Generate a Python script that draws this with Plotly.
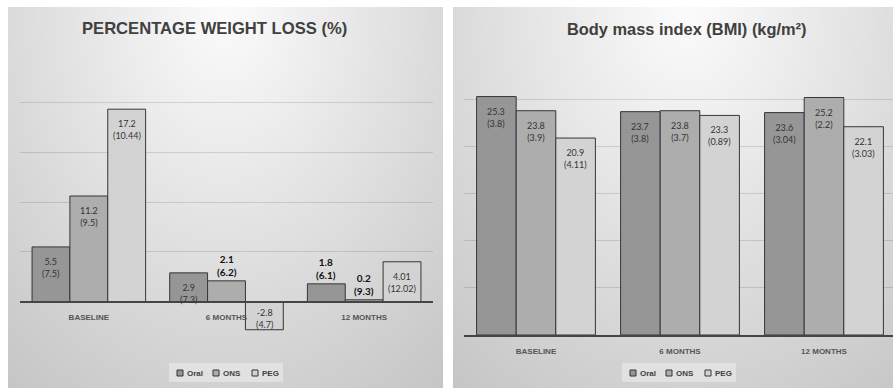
import base64
import struct
import zlib

import numpy as np
import plotly.graph_objects as go

# ---------------- data ----------------
categories = ["BASELINE", "6 MONTHS", "12 MONTHS"]
series_names = ["Oral", "ONS", "PEG"]

# Percentage weight loss (%): bar heights as drawn, printed labels "mean (SD)"
wl_oral = [5.5, 2.9, 1.8]
wl_ons = [10.6, 2.1, 0.2]
wl_peg = [19.3, -2.8, 4.01]
wl_oral_labels = ["5.5 (7.5)", "2.9 (7.3)", "1.8 (6.1)"]
wl_ons_labels = ["11.2 (9.5)", "2.1 (6.2)", "0.2 (9.3)"]
wl_peg_labels = ["17.2 (10.44)", "-2.8 (4.7)", "4.01 (12.02)"]
wl_oral_bold = [False, False, True]
wl_ons_bold = [False, True, True]
wl_peg_bold = [False, False, False]

# Body mass index (kg/m2)
bmi_oral = [25.3, 23.7, 23.6]
bmi_ons = [23.8, 23.8, 25.2]
bmi_peg = [20.9, 23.3, 22.1]
bmi_oral_labels = ["25.3 (3.8)", "23.7 (3.8)", "23.6 (3.04)"]
bmi_ons_labels = ["23.8 (3.9)", "23.8 (3.7)", "25.2 (2.2)"]
bmi_peg_labels = ["20.9 (4.11)", "23.3 (0.89)", "22.1 (3.03)"]
bmi_bold = [False, False, False]

wl_title = "PERCENTAGE WEIGHT LOSS (%)"
bmi_title = "Body mass index (BMI) (kg/m²)"

# ---------------- styling ----------------
W, H = 893, 389
colors = ["#969696", "#adadad", "#d3d3d3"]
edge = "#363636"
BW = 0.275  # bar width in category units


def fx(p):
    return p / W


def fy(p):
    return 1 - p / H


def gradient_png(w, h):
    u = (np.arange(w) + 0.5) / w
    v = (np.arange(h) + 0.5) / h
    U, V = np.meshgrid(u, v)
    r = np.sqrt(((U - 0.5) * 2) ** 2 * 0.6 + V ** 2)
    val = np.clip(252 - 43 * r, 190, 253).astype(np.uint8)
    raw = np.hstack([np.zeros((h, 1), np.uint8), val]).tobytes()

    def chunk(t, d):
        return struct.pack(">I", len(d)) + t + d + struct.pack(">I", zlib.crc32(t + d) & 0xFFFFFFFF)

    png = (b"\x89PNG\r\n\x1a\n"
           + chunk(b"IHDR", struct.pack(">IIBBBBB", w, h, 8, 0, 0, 0, 0))
           + chunk(b"IDAT", zlib.compress(raw, 9))
           + chunk(b"IEND", b""))
    return "data:image/png;base64," + base64.b64encode(png).decode()


fig = go.Figure()

panels = [
    dict(xa="x", ya="y", legend_left=169,
         vals=[wl_oral, wl_ons, wl_peg],
         labels=[wl_oral_labels, wl_ons_labels, wl_peg_labels],
         bold=[wl_oral_bold, wl_ons_bold, wl_peg_bold]),
    dict(xa="x2", ya="y2", legend_left=622,
         vals=[bmi_oral, bmi_ons, bmi_peg],
         labels=[bmi_oral_labels, bmi_ons_labels, bmi_peg_labels],
         bold=[bmi_bold, bmi_bold, bmi_bold]),
]

annotations = []
shapes = []
legend_offsets = [8, 44, 83]
for p in panels:
    for k, name in enumerate(series_names):
        xs = np.arange(len(categories)) + (k - 1) * BW
        fig.add_trace(go.Bar(
            x=xs, y=p["vals"][k], width=BW, name=name,
            marker=dict(color=colors[k], line=dict(color=edge, width=1)),
            xaxis=p["xa"], yaxis=p["ya"], showlegend=False, hoverinfo="skip",
        ))
        for i, (xv, yv) in enumerate(zip(xs, p["vals"][k])):
            lab = p["labels"][k][i].replace(" ", "<br>")
            if p["bold"][k][i]:
                annotations.append(dict(
                    x=xv, y=yv, xref=p["xa"], yref=p["ya"], text="<b>" + lab + "</b>",
                    showarrow=False, yanchor="bottom", yshift=1,
                    font=dict(family="Lato", size=10, color="#111111")))
            else:
                annotations.append(dict(
                    x=xv, y=max(yv, 0), xref=p["xa"], yref=p["ya"], text=lab,
                    showarrow=False, yanchor="top", yshift=-7 if yv > 0 else -3,
                    font=dict(family="Lato", size=9, color="#333333")))

    # legend (box, swatches, names)
    L = p["legend_left"]
    shapes.append(dict(type="rect", xref="paper", yref="paper", x0=fx(L), x1=fx(L + 114),
                       y0=fy(382), y1=fy(363), fillcolor="rgba(255,255,255,0.35)",
                       line=dict(width=0), layer="below"))
    for k, name in enumerate(series_names):
        sx = L + legend_offsets[k]
        shapes.append(dict(type="rect", xref="paper", yref="paper", x0=fx(sx), x1=fx(sx + 6),
                           y0=fy(376), y1=fy(370), fillcolor=colors[k],
                           line=dict(color=edge, width=1)))
        annotations.append(dict(x=fx(sx + 8), y=fy(373), xref="paper", yref="paper",
                                text=name, showarrow=False, xanchor="left", yanchor="middle",
                                font=dict(family="Liberation Sans", size=8, color="#404040",
                                          weight="bold")))

annotations += [
    dict(x=fx(214), y=fy(29), xref="paper", yref="paper", text="<b>" + wl_title + "</b>",
         showarrow=False, xanchor="center", yanchor="middle",
         font=dict(family="Liberation Sans", size=16.6, color="#404040")),
    dict(x=fx(687), y=fy(29), xref="paper", yref="paper", text="<b>" + bmi_title + "</b>",
         showarrow=False, xanchor="center", yanchor="middle",
         font=dict(family="Liberation Sans", size=16.4, color="#404040")),
]

# axes geometry
y1_dom = [fy(352), fy(52)]
y1_rng = [-5.03, 25.03]
y2_dom = [fy(335), fy(52)]
y2_rng = [0, 30.03]
zero_pos = y1_dom[0] + (0 - y1_rng[0]) / (y1_rng[1] - y1_rng[0]) * (y1_dom[1] - y1_dom[0])

tickfont = dict(family="Liberation Sans", size=8, color="#555555", weight="bold")
grid = "rgba(0,0,0,0.12)"
axis_line = "#454545"

common_x = dict(tickmode="array", tickvals=list(range(len(categories))), ticktext=categories,
                showgrid=False, zeroline=False, showline=True, linecolor=axis_line, linewidth=1.5,
                ticks="", tickfont=tickfont, ticklabelstandoff=8, fixedrange=True)
common_y = dict(showgrid=True, gridcolor=grid, gridwidth=1, zeroline=False,
                showticklabels=False, ticks="", tick0=0, dtick=5, fixedrange=True)

fig.update_layout(
    width=W, height=H,
    margin=dict(l=0, r=0, t=0, b=0),
    paper_bgcolor="white", plot_bgcolor="rgba(0,0,0,0)",
    barmode="overlay",
    showlegend=False,
    xaxis=dict(domain=[fx(20), fx(433)], range=[-0.5, 2.5], anchor="free",
               position=zero_pos, **common_x),
    yaxis=dict(domain=y1_dom, range=y1_rng, anchor="x", **common_y),
    xaxis2=dict(domain=[fx(464), 1.0], range=[-0.5, -0.5 + (W - 464) / 144.0], anchor="y2",
                **common_x),
    yaxis2=dict(domain=y2_dom, range=y2_rng, anchor="x2", **common_y),
    annotations=annotations,
    shapes=shapes,
    images=[
        dict(source=gradient_png(435, 381), xref="paper", yref="paper",
             x=fx(8), y=fy(7), sizex=435 / W, sizey=381 / H,
             xanchor="left", yanchor="top", sizing="stretch", layer="below"),
        dict(source=gradient_png(468, 381), xref="paper", yref="paper",
             x=fx(453), y=fy(7), sizex=468 / W, sizey=381 / H,
             xanchor="left", yanchor="top", sizing="stretch", layer="below"),
    ],
)

fig.write_html("out.html")
